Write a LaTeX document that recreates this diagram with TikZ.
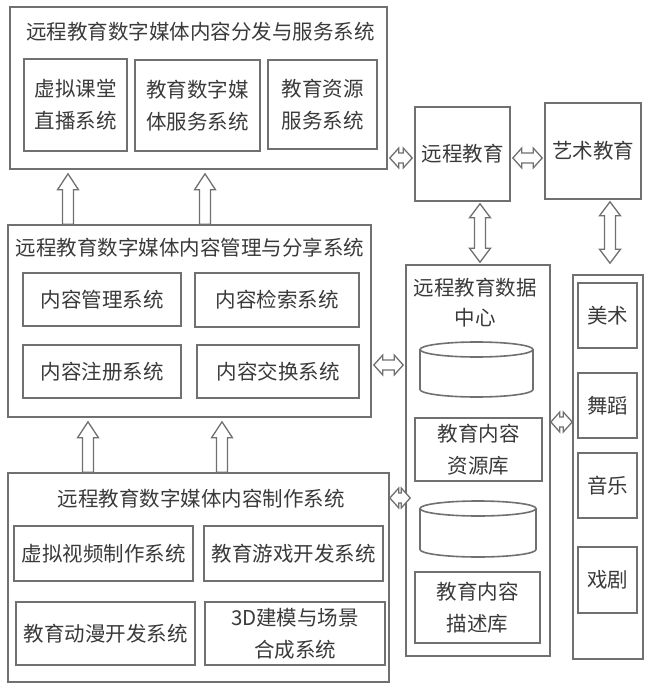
\documentclass[tikz,border=0pt]{standalone}
\usepackage{fontspec}
\setmainfont{Noto Sans CJK SC}
\usetikzlibrary{calc}
\definecolor{linegray}{HTML}{707070}
\definecolor{textgray}{HTML}{3A3A3A}
% hollow block arrows: tail #1, tip #2
\newcommand\blkup[2]{%
  \draw[blk] let \p1=(#1),\p2=(#2) in
    (\x1-5.5pt,\y1) -- (\x1-5.5pt,\y2-20pt) -- (\x1-10.5pt,\y2-20pt) -- (\x1,\y2-4pt)
    -- (\x1+10.5pt,\y2-20pt) -- (\x1+5.5pt,\y2-20pt) -- (\x1+5.5pt,\y1) -- cycle;}
% double vertical: top #1, bottom #2
\newcommand\blkvv[2]{%
  \draw[blk] let \p1=(#1),\p2=(#2) in
    (\x1,\y1-2pt) -- (\x1+10.5pt,\y1-16pt) -- (\x1+5.5pt,\y1-16pt) -- (\x1+5.5pt,\y2+16pt)
    -- (\x1+10.5pt,\y2+16pt) -- (\x1,\y2+2pt) -- (\x1-10.5pt,\y2+16pt) -- (\x1-5.5pt,\y2+16pt)
    -- (\x1-5.5pt,\y1-16pt) -- (\x1-10.5pt,\y1-16pt) -- cycle;}
% double horizontal: left #2, right #3, gap #1
\newcommand\blkhh[3][2pt]{%
  \draw[blk] let \p1=(#2),\p2=(#3) in
    (\x1+#1,\y1) -- (\x1+#1+9pt,\y1+10pt) -- (\x1+#1+9pt,\y1+5pt) -- (\x2-#1-9pt,\y1+5pt)
    -- (\x2-#1-9pt,\y1+10pt) -- (\x2-#1,\y1) -- (\x2-#1-9pt,\y1-10pt) -- (\x2-#1-9pt,\y1-5pt)
    -- (\x1+#1+9pt,\y1-5pt) -- (\x1+#1+9pt,\y1-10pt) -- cycle;}
% drum: centre #1, half width #2, half height #3
\newcommand\drum[3]{%
  \draw[drumline] ($(#1)+(-#2,-#3+7.5)$) -- ($(#1)+(-#2,#3-7.5)$)
    arc[start angle=180,end angle=0,x radius=#2,y radius=7.5] -- ($(#1)+(#2,-#3+7.5)$);
  \draw[drumline] ($(#1)+(0,-#3+7.5)$) ellipse[x radius=#2,y radius=7.5];}
\begin{document}
\begin{tikzpicture}[x=1pt,y=-1pt,
    box/.style={draw=linegray,line width=1.6pt,text=textgray,align=center,
      font=\fontsize{20.5}{32}\selectfont,inner sep=0pt},
    label/.style={text=textgray,align=center,font=\fontsize{20.5}{30}\selectfont,inner sep=0pt},
    drumline/.style={draw=linegray,line width=1.6pt},
    blk/.style={draw=linegray,line width=1.3pt,fill=white,line join=miter}]
  \useasboundingbox (0,0) rectangle (645,684);
  % distribution and service
  \node[box,minimum width=377pt,minimum height=162pt] (dist) at (198.5,88) {};
  \node[label] (distT) at (200.5,32) {远程教育数字媒体内容分发与服务系统};
  \node[box,minimum width=103pt,minimum height=92pt] (live) at (75.5,105) {虚拟课堂\\直播系统};
  \node[box,minimum width=125pt,minimum height=91pt] (media) at (197.5,105.5) {教育数字媒\\体服务系统};
  \node[box,minimum width=109pt,minimum height=89pt] (res) at (322.5,104.5) {教育资源\\服务系统};
  % management and sharing
  \node[box,minimum width=363pt,minimum height=192pt] (manage) at (189.5,321) {};
  \node[label] (manageT) at (190,248) {远程教育数字媒体内容管理与分享系统};
  \node[box,minimum width=158pt,minimum height=53pt] (cms) at (102,299.5) {内容管理系统};
  \node[box,minimum width=164pt,minimum height=54pt] (search) at (277,300) {内容检索系统};
  \node[box,minimum width=158pt,minimum height=53pt] (reg) at (102,371.5) {内容注册系统};
  \node[box,minimum width=162pt,minimum height=53pt] (swap) at (278,371.5) {内容交换系统};
  % production
  \node[box,minimum width=381pt,minimum height=209pt] (make) at (198.5,577.5) {};
  \node[label] (makeT) at (201,499) {远程教育数字媒体内容制作系统};
  \node[box,minimum width=179pt,minimum height=55pt] (video) at (103.5,553.5) {虚拟视频制作系统};
  \node[box,minimum width=179pt,minimum height=55pt] (game) at (293.5,553.5) {教育游戏开发系统};
  \node[box,minimum width=179pt,minimum height=63pt] (anim) at (105.5,633.5) {教育动漫开发系统};
  \node[box,minimum width=180pt,minimum height=63pt] (model) at (295,633.5) {3D建模与场景\\合成系统};
  % right side
  \node[box,minimum width=95pt,minimum height=94pt] (remote) at (462.5,154) {远程教育};
  \node[box,minimum width=96pt,minimum height=96pt] (art) at (593,151) {艺术教育};
  \node[box,minimum width=144pt,minimum height=391pt] (data) at (478,460.5) {};
  \node[label] (dataT) at (475,303) {远程教育数据\\中心};
  \coordinate (db1) at (476.5,369.5);
  \drum{db1}{56.5}{27.5}
  \node[box,minimum width=127pt,minimum height=63pt] (resdb) at (478.5,449.5) {教育内容\\资源库};
  \coordinate (db2) at (478,529);
  \drum{db2}{58}{28}
  \node[box,minimum width=125pt,minimum height=71pt] (descdb) at (477.5,607.5) {教育内容\\描述库};
  \node[box,minimum width=70pt,minimum height=384pt] (arts) at (608,467) {};
  \node[box,minimum width=59pt,minimum height=65pt] (fine) at (607.5,315.5) {美术};
  \node[box,minimum width=59pt,minimum height=65pt] (dance) at (607.5,405.5) {舞蹈};
  \node[box,minimum width=59pt,minimum height=65pt] (music) at (607.5,485.5) {音乐};
  \node[box,minimum width=59pt,minimum height=66pt] (drama) at (607.5,580) {戏剧};
  % arrows
  \coordinate (artsTop) at ($(arts.north)+(0,-9)$);
  \coordinate (dataIn) at ($(data.west)+(5,0)$);
  \blkup{68,0 |- manage.north}{68,0 |- dist.south}
  \blkup{205,0 |- manage.north}{205,0 |- dist.south}
  \blkup{88,0 |- make.north}{88,0 |- manage.south}
  \blkup{222,0 |- make.north}{222,0 |- manage.south}
  \blkhh{dist.east |- 0,158}{remote.west |- 0,158}
  \blkhh{remote.east |- 0,158}{art.west |- 0,158}
  \blkvv{480,0 |- remote.south}{480,0 |- data.north}
  \blkvv{610,0 |- art.south}{610,0 |- artsTop}
  \blkhh{manage.east |- 0,365}{data.west |- 0,365}
  \blkhh[0pt]{make.east |- 0,498}{dataIn |- 0,498}
  \blkhh[0pt]{data.east |- 0,422}{arts.west |- 0,422}
\end{tikzpicture}
\end{document}
